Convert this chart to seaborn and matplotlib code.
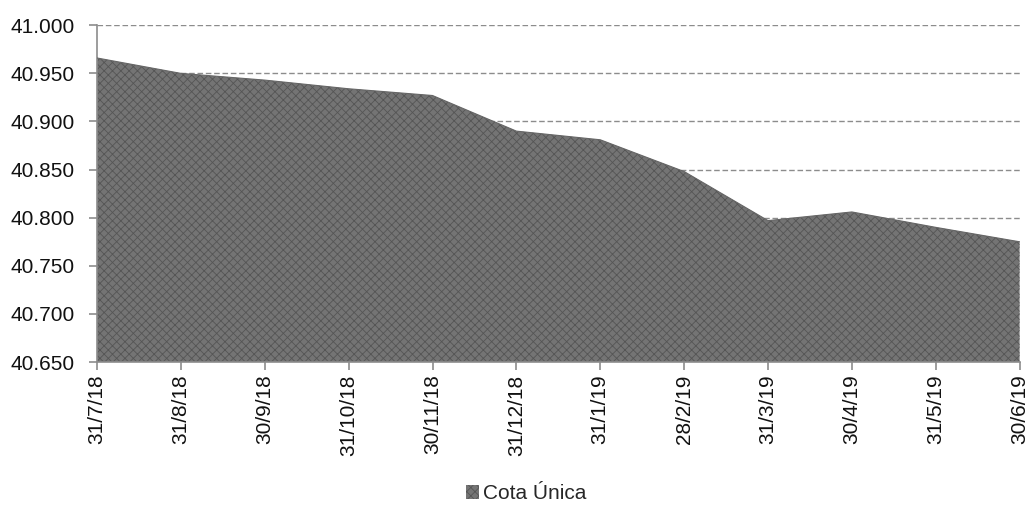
import matplotlib
matplotlib.use("Agg")
import matplotlib.pyplot as plt
import matplotlib.patches as mpatches
import seaborn as sns
import pandas as pd

sns.set_theme(style="white")
plt.rcParams["font.family"] = ["Liberation Sans", "DejaVu Sans"]
plt.rcParams["hatch.color"] = "#4a4a4a"
plt.rcParams["hatch.linewidth"] = 0.6

dates = ["31/7/18", "31/8/18", "30/9/18", "31/10/18", "30/11/18", "31/12/18",
         "31/1/19", "28/2/19", "31/3/19", "30/4/19", "31/5/19", "30/6/19"]
cota = [40.966, 40.950, 40.943, 40.934, 40.927, 40.890,
        40.881, 40.848, 40.797, 40.806, 40.790, 40.775]
yticks = [40.650, 40.700, 40.750, 40.800, 40.850, 40.900, 40.950, 41.000]

df = pd.DataFrame({"data": dates, "cota": cota, "pos": range(len(dates))})

fig = plt.figure(figsize=(10.32, 5.05), dpi=100)
ax = fig.add_axes([0.094, 0.283, 0.894, 0.667])

fill_color = "#747474"
ax.fill_between(df["pos"], yticks[0], df["cota"], facecolor=fill_color,
                edgecolor="#555555", hatch="xxxx", linewidth=0, zorder=2)
sns.lineplot(data=df, x="pos", y="cota", ax=ax, color="#666666",
             linewidth=0.8, zorder=3)

ax.set_xlim(0, len(dates) - 1)
ax.set_ylim(yticks[0], yticks[-1])
ax.set_yticks(yticks)
ax.set_yticklabels([f"{v:.3f}" for v in yticks], fontsize=15, color="#111111")
ax.set_xticks(df["pos"])
ax.set_xticklabels(dates, rotation=90, fontsize=15, color="#111111")
ax.set_xlabel("")
ax.set_ylabel("")

for v in yticks[1:]:
    ax.axhline(v, color="#8c8c8c", linestyle=(0, (4, 2)), linewidth=1.0, zorder=1)

for side in ["top", "right"]:
    ax.spines[side].set_visible(False)
for side in ["left", "bottom"]:
    ax.spines[side].set_color("#8c8c8c")
    ax.spines[side].set_linewidth(1.2)
ax.tick_params(axis="both", which="both", direction="out", length=6,
               width=1.2, color="#8c8c8c", left=True, bottom=True, pad=3)
ax.tick_params(axis="y", pad=10)

handle = mpatches.Patch(facecolor=fill_color, edgecolor="#555555", hatch="xxxx",
                        linewidth=0, label="Cota Única")
fig.legend(handles=[handle], loc="center", bbox_to_anchor=(0.51, 0.022),
           frameon=False, fontsize=15, handlelength=0.6, handleheight=0.6,
           handletextpad=0.2)

fig.savefig("out.png", dpi=100)
